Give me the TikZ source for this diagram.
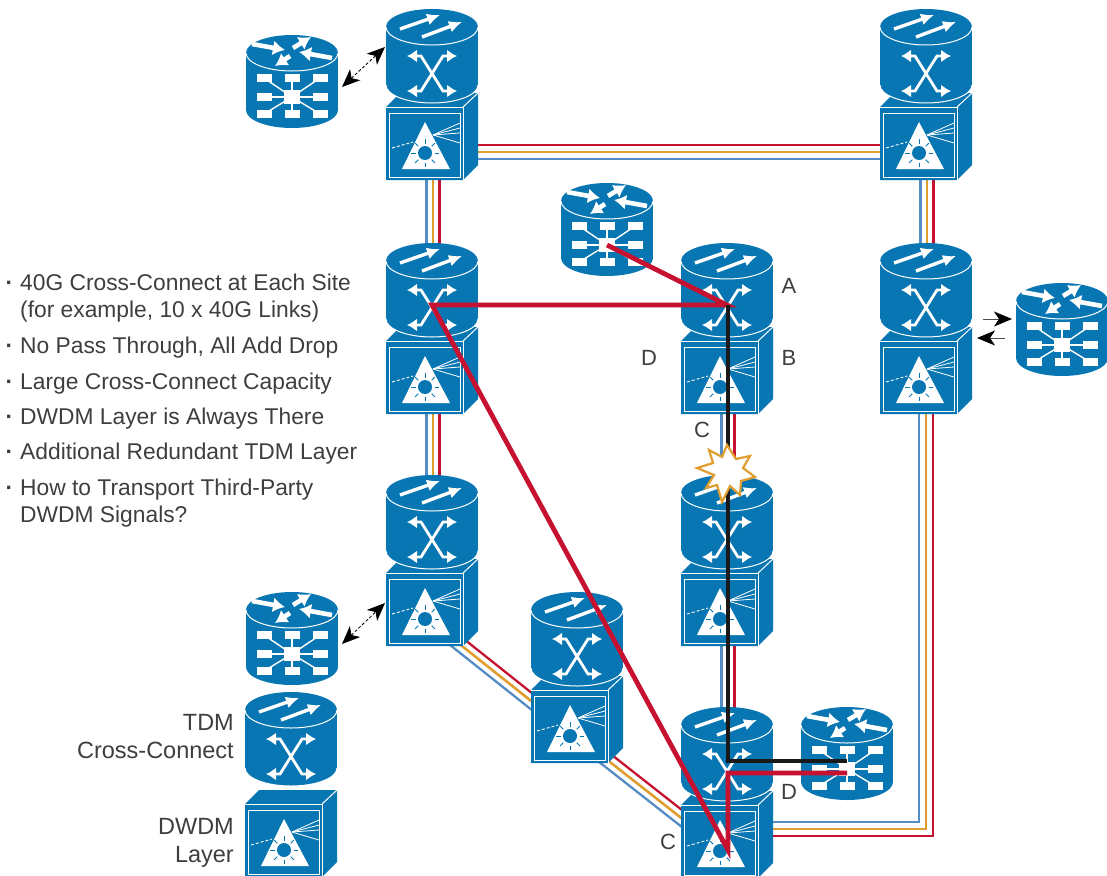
\documentclass[tikz,border=0pt]{standalone}
\usepackage{fontspec}
\setmainfont{Liberation Sans}
\usetikzlibrary{calc,arrows.meta,backgrounds}
\definecolor{ciscoblue}{RGB}{8,118,178}
\definecolor{fibreblue}{RGB}{86,140,196}
\definecolor{fibreorange}{RGB}{224,158,48}
\definecolor{fibrered}{RGB}{198,18,48}
\definecolor{inkgrey}{RGB}{62,62,62}
\tikzset{
    fblue/.style={draw=fibreblue,line width=2.3pt},
    forange/.style={draw=fibreorange,line width=2.6pt},
    fred/.style={draw=fibrered,line width=2.3pt},
    redpath/.style={draw=fibrered,line width=4.8pt,line join=miter},
    blackpath/.style={draw=black!90,line width=4.8pt,line join=miter},
    whiteline/.style={draw=white,line width=1pt},
    longarrow/.style={white,line width=3.4pt,-{Latex[length=13pt,width=12pt]}},
    shortarrow/.style={white,line width=4.6pt,-{Latex[length=12pt,width=15pt]}},
    xarrow/.style={white,line width=2.8pt,{Latex[length=10pt,width=13pt]}-{Latex[length=10pt,width=13pt]}},
    pairarrow/.style={black,line width=.8pt,{Stealth[length=18pt,width=15pt,inset=5pt]}-{Stealth[length=18pt,width=15pt,inset=5pt]}},
    oneway/.style={line width=.8pt,draw=black!70,-{Stealth[length=18pt,width=15pt,inset=5pt,black]}},
    legendtext/.style={inkgrey,font=\fontsize{23.5}{28.5}\selectfont,inner sep=0pt},
    itemtext/.style={inkgrey,font=\fontsize{22.8}{27}\selectfont,inner sep=0pt,anchor=north west,align=left},
    siteletter/.style={inkgrey,font=\fontsize{22}{25}\selectfont,inner sep=0pt},
    % TDM cross-connect cylinder
    pics/crossconnect/.style={code={
        \fill[ciscoblue] (0,58) ellipse (46 and 18);
        \fill[ciscoblue] (-46,0) rectangle (46,58);
        \draw[whiteline] (-46,58) arc[start angle=180,end angle=0,x radius=46,y radius=18];
        \fill[ciscoblue] (0,0) ellipse (46 and 18);
        \draw[whiteline] (-46,0) arc[start angle=180,end angle=0,x radius=46,y radius=18];
        \draw[longarrow] (-32,2) -- (8,-12);
        \draw[longarrow] (-10,10) -- (30,-5);
        \draw[xarrow] (-25,29) -- (-11,29) -- (11,64) -- (25,64);
        \draw[xarrow] (-25,64) -- (-11,64) -- (11,29) -- (25,29);
        \coordinate (-hub) at (0,44);
        \coordinate (-fib) at (1,30);
        \coordinate (-link) at (-47,20);
    }},
    % DWDM layer box
    pics/dwdmbox/.style={code={
        \fill[ciscoblue] (-46,80) -- (-32,66) -- (46,66) -- (46,138) -- (31,153) -- (-46,153) -- cycle;
        \draw[whiteline] (-46,80) -- (31,80) -- (31,153);
        \draw[whiteline] (31,80) -- (46,66);
        \draw[whiteline] (-43,86) rectangle (28,150);
        \fill[white] (-7,95) -- (18,142) -- (-30,142) -- cycle;
        \foreach \ry in {96,101,106,116}
            \draw[white,line width=.8pt] (1,108) -- (28,\ry);
        \draw[white,line width=.9pt,dash pattern=on 3pt off 2pt] (-40,121) -- (-19,115);
        \fill[ciscoblue] (-7,126) circle (7);
        \foreach \ang in {0,45,...,315}
            \draw[ciscoblue,line width=.9pt] ($(-7,126)+(\ang:9.5)$) -- ($(-7,126)+(\ang:14)$);
        \coordinate (-fib) at (1,100);
        \coordinate (-side) at (0,125);
        \coordinate (-hub) at (1,125);
        \coordinate (-link) at (-47,110);
    }},
    % router with add/drop hub
    pics/addrouter/.style={code={
        \fill[ciscoblue] (0,57) ellipse (46 and 18);
        \fill[ciscoblue] (-46,0) rectangle (46,57);
        \fill[ciscoblue] (0,0) ellipse (46 and 18);
        \draw[whiteline] (-46,0) arc[start angle=180,end angle=0,x radius=46,y radius=18];
        \draw[shortarrow] (-40,-9) -- (-7,-3);
        \draw[shortarrow] (1,-5) -- (19,-16);
        \draw[shortarrow] (40,5) -- (7,-1);
        \draw[shortarrow] (-2,3) -- (-17,13);
        \foreach \bx/\by in {-28/25,0/25,28/25,-28/44,28/44,-28/61,0/61,28/61}{
            \draw[white,line width=1.4pt] (0,44) -- (\bx,\by);
            \fill[white] (\bx-7.5,\by-4) rectangle (\bx+7.5,\by+4);
        }
        \fill[white] (-8,37) rectangle (8,51);
        \coordinate (-hub) at (0,44);
        \coordinate (-link) at (50,34);
    }},
}
\newcommand{\fibrelink}[3]{
    \draw[fblue] ($(#1)+#3$) -- ($(#2)+#3$);
    \draw[forange] (#1) -- (#2);
    \draw[fred] ($(#1)-#3$) -- ($(#2)-#3$);
}
\newcommand{\itemdot}{\llap{\textbf{·}\hspace{7pt}}}

\begin{document}
\begin{tikzpicture}[x=1pt,y=-1pt]
    \useasboundingbox (0,0) rectangle (1107,875);
    % Define fibre end points
    \coordinate (diagA) at (440,628.5);
    \coordinate (diagB) at (545,712);
    \coordinate (diagC) at (585,742.4);
    \coordinate (diagD) at (700,832.7);
    \coordinate (cornerB) at (919,822);
    \coordinate (cornerO) at (926,829);
    \coordinate (cornerR) at (933,836);
    \coordinate (redTurn) at (728,773);
    \coordinate (redEnd) at (847,773);
    \coordinate (blackTop) at (728,305);
    \coordinate (blackTurn) at (728,761);
    \coordinate (blackEnd) at (847,761);
    \coordinate (inTail) at (983,319);
    \coordinate (inTip) at (1012,319);
    \coordinate (outTail) at (1005,338);
    \coordinate (outTip) at (977,338);
    % Routers and cross-connect positions
    \coordinate (siteA) at (432,27);
    \coordinate (siteB) at (926,27);
    \coordinate (siteC) at (432,261);
    \coordinate (siteD) at (727,261);
    \coordinate (siteE) at (926,261);
    \coordinate (siteF) at (432,493);
    \coordinate (siteG) at (727,493);
    \coordinate (siteH) at (577,610);
    \coordinate (siteJ) at (727,725);
    % DWDM layer boxes
    \pic (boxA) at (siteA) {dwdmbox};
    \pic (boxB) at (siteB) {dwdmbox};
    \pic (boxC) at (siteC) {dwdmbox};
    \pic (boxD) at (siteD) {dwdmbox};
    \pic (boxE) at (siteE) {dwdmbox};
    \pic (boxF) at (siteF) {dwdmbox};
    \pic (boxG) at (siteG) {dwdmbox};
    \pic (boxH) at (siteH) {dwdmbox};
    \pic (boxJ) at (siteJ) {dwdmbox};
    \pic (boxKey) at (291,724) {dwdmbox};
    % Cross-connects on top of the boxes
    \pic (xcA) at (siteA) {crossconnect};
    \pic (xcB) at (siteB) {crossconnect};
    \pic (xcC) at (siteC) {crossconnect};
    \pic (xcD) at (siteD) {crossconnect};
    \pic (xcE) at (siteE) {crossconnect};
    \pic (xcF) at (siteF) {crossconnect};
    \pic (xcG) at (siteG) {crossconnect};
    \pic (xcH) at (siteH) {crossconnect};
    \pic (xcJ) at (siteJ) {crossconnect};
    \pic (xcKey) at (291,710) {crossconnect};
    % Routers
    \pic (rtA) at (292,53) {addrouter};
    \pic (rtB) at (607,201) {addrouter};
    \pic (rtC) at (1062,301) {addrouter};
    \pic (rtD) at (292,610) {addrouter};
    \pic (rtE) at (847,725) {addrouter};
    % Draw fibres
    \begin{scope}[on background layer]
        \fibrelink{boxA-fib}{xcC-fib}{(-6.5,0)}
        \fibrelink{boxC-fib}{xcF-fib}{(-6.5,0)}
        \fibrelink{boxB-fib}{xcE-fib}{(-6.5,0)}
        \fibrelink{boxD-fib}{xcG-fib}{(-6.5,0)}
        \fibrelink{boxG-fib}{xcJ-fib}{(-6.5,0)}
        \fibrelink{boxA-side}{boxB-side}{(0,7)}
        \fibrelink{diagA}{diagB}{(0,8.5)}
        \fibrelink{diagC}{diagD}{(0,8.5)}
        \draw[fblue] (boxE-fib -| cornerB) -- (cornerB) -- (cornerB -| boxJ-side);
        \draw[forange] (boxE-fib -| cornerO) -- (cornerO) -- (cornerO -| boxJ-side);
        \draw[fred] (boxE-fib -| cornerR) -- (cornerR) -- (cornerR -| boxJ-side);
    \end{scope}
    % Small arrows
    \draw[pairarrow,dash pattern=on 3pt off 2pt] (rtA-link) -- (xcA-link);
    \draw[pairarrow,dash pattern=on 3pt off 2pt] (rtD-link) -- (boxF-link);
    \draw[oneway] (inTail) -- (inTip);
    \draw[oneway] (outTail) -- (outTip);
    % Paths
    \draw[redpath] (rtB-hub) -- (xcD-hub) -- (xcC-hub) -- (boxJ-hub) -- (redTurn) -- (redEnd);
    \draw[blackpath] (blackTop) -- (blackTurn) -- (blackEnd);
    % Fault
    \draw[fibreorange,fill=white,line width=2.2pt,line join=miter] (727,445) -- (736,459) -- (750,456) -- (743,468) -- (755,477) -- (741,481) -- (740,495) -- (730,486) -- (722,502) -- (717,485) -- (706,488) -- (714,475) -- (697,468) -- (713,463) -- (709,450) -- (722,457) -- cycle;
    % Labels
    \node[siteletter] (lblA) at (789,286) {A};
    \node[siteletter] (lblB) at (789,358) {B};
    \node[siteletter] (lblD) at (649,358) {D};
    \node[siteletter] (lblC) at (702,430) {C};
    \node[siteletter] (lblE) at (789,792) {D};
    \node[siteletter] (lblF) at (668,842) {C};
    \node[legendtext,anchor=east,align=right] (keyTdm) at (234,736.5) {TDM\\Cross-Connect};
    \node[legendtext,anchor=east,align=right] (keyDwdm) at (234,843) {DWDM\\Layer};
    \node[itemtext] (itemA) at (20,274) {\itemdot 40G Cross-Connect at Each Site\\(for example, 10 x 40G Links)};
    \node[itemtext] (itemB) at (20,337) {\itemdot No Pass Through, All Add Drop};
    \node[itemtext] (itemC) at (20,373) {\itemdot Large Cross-Connect Capacity};
    \node[itemtext] (itemD) at (20,408) {\itemdot DWDM Layer is Always There};
    \node[itemtext] (itemE) at (20,443) {\itemdot Additional Redundant TDM Layer};
    \node[itemtext] (itemF) at (20,479) {\itemdot How to Transport Third-Party\\DWDM Signals?};
\end{tikzpicture}
\end{document}
